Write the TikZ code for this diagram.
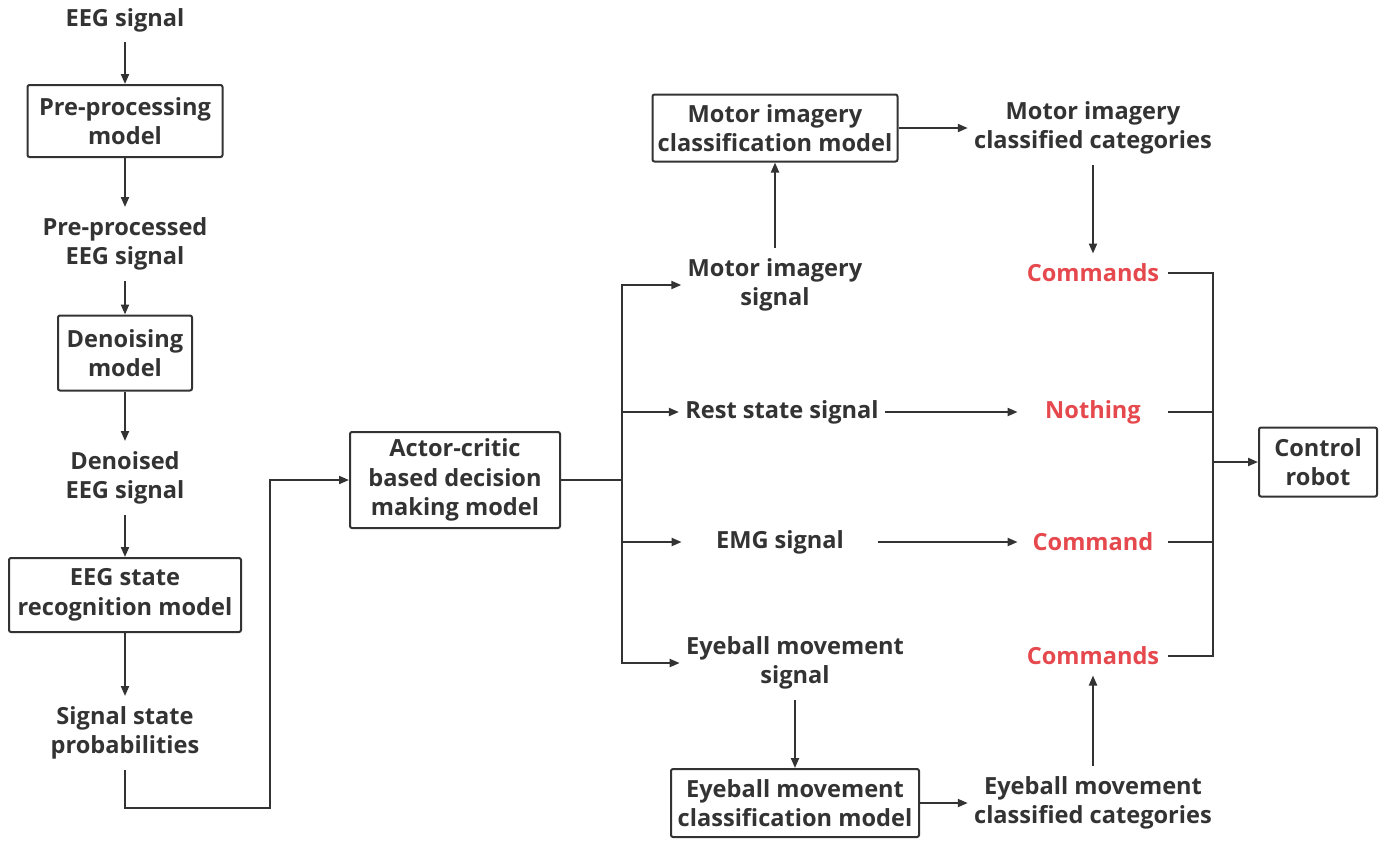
\documentclass[tikz,border=0pt]{standalone}
\usepackage{fontspec}
\setmainfont{Open Sans}
\usetikzlibrary{arrows.meta}
\definecolor{ink}{HTML}{333333}
\definecolor{cmdred}{HTML}{E5484D}
\begin{document}
\begin{tikzpicture}[x=0.5pt,y=-0.5pt,
  font=\bfseries\fontsize{11.8}{14.8}\selectfont,
  every node/.style={align=center, text=ink},
  lbl/.style={inner xsep=3pt, inner ysep=5pt},
  box/.style={draw=ink, line width=1pt, rounded corners=1pt, inner sep=2pt},
  cmdlbl/.style={lbl, text=cmdred, minimum width=75pt},
  link/.style={draw=ink, line width=1pt},
  arr/.style={link, -{Triangle[length=5pt,width=4pt]}}]
\useasboundingbox (0,0) rectangle (1386,843);

% left column: signal pipeline
\node[lbl] (eeg) at (125,20) {EEG signal};
\node[box, minimum width=97.5pt, minimum height=36pt] (pre) at (125,121) {Pre-processing\\model};
\node[lbl] (pres) at (125,244) {Pre-processed\\EEG signal};
\node[box, minimum width=67pt, minimum height=37.5pt] (den) at (125,353) {Denoising\\model};
\node[lbl] (dens) at (125,478) {Denoised\\EEG signal};
\node[box, minimum width=116pt, minimum height=37pt] (rec) at (125,595) {EEG state\\recognition model};
\node[lbl] (prob) at (125,733) {Signal state\\probabilities};

\draw[arr] (eeg.south) -- (pre.north);
\draw[arr] (pre.south) -- (pres.north);
\draw[arr] (pres.south) -- (den.north);
\draw[arr] (den.south) -- (dens.north);
\draw[arr] (dens.south) -- (rec.north);
\draw[arr] (rec.south) -- (prob.north);

% decision model
\node[box, minimum width=105pt, minimum height=48pt] (ac) at (455,480) {Actor-critic\\based decision\\making model};
\coordinate (pb) at (270,808);
\draw[arr] (prob.south) |- (pb) |- (ac.west);

% signal branches
\node[lbl, minimum width=93pt] (mis) at (775,285) {Motor imagery\\signal};
\node[lbl, minimum width=100pt] (rss) at (782,412) {Rest state signal};
\node[lbl, minimum width=98pt] (emg) at (780,542) {EMG signal};
\node[lbl, minimum width=111pt] (eye) at (795,663) {Eyeball movement\\signal};

\coordinate (bus) at (622,480);
\draw[link] (ac.east) -- (bus);
\draw[arr] (bus) |- (mis.west);
\draw[arr] (bus) |- (rss.west);
\draw[arr] (bus) |- (emg.west);
\draw[arr] (bus) |- (eye.west);

% classification models
\node[box, minimum width=122.5pt, minimum height=33.5pt] (mic) at (775,128) {Motor imagery\\classification model};
\node[lbl] (mcc) at (1093,128) {Motor imagery\\classified categories};
\node[box, minimum width=124pt, minimum height=34pt] (ec) at (795,803) {Eyeball movement\\classification model};
\node[lbl] (ecc) at (1093,803) {Eyeball movement\\classified categories};

\draw[arr] (mis.north) -- (mic.south);
\draw[arr] (mic.east) -- (mcc.west);
\draw[arr] (eye.south) -- (ec.north);
\draw[arr] (ec.east) -- (ecc.west);

% outputs
\node[cmdlbl] (c1) at (1093,273) {Commands};
\node[cmdlbl] (c2) at (1093,412) {Nothing};
\node[cmdlbl] (c3) at (1093,542) {Command};
\node[cmdlbl] (c4) at (1093,656) {Commands};

\draw[arr] (mcc.south) -- (c1.north);
\draw[arr] (ecc.north) -- (c4.south);
\draw[arr] (rss.east) -- (c2.west);
\draw[arr] (emg.east) -- (c3.west);

% robot control
\node[box, minimum width=59pt, minimum height=34.5pt] (robot) at (1318,462) {Control\\robot};
\coordinate (rbus) at (1213,462);
\draw[link] (c1.east) -| (rbus);
\draw[link] (c4.east) -| (rbus);
\draw[link] (c2.east) -- (c2.east -| rbus);
\draw[link] (c3.east) -- (c3.east -| rbus);
\draw[arr] (rbus) -- (robot.west);
\end{tikzpicture}
\end{document}
